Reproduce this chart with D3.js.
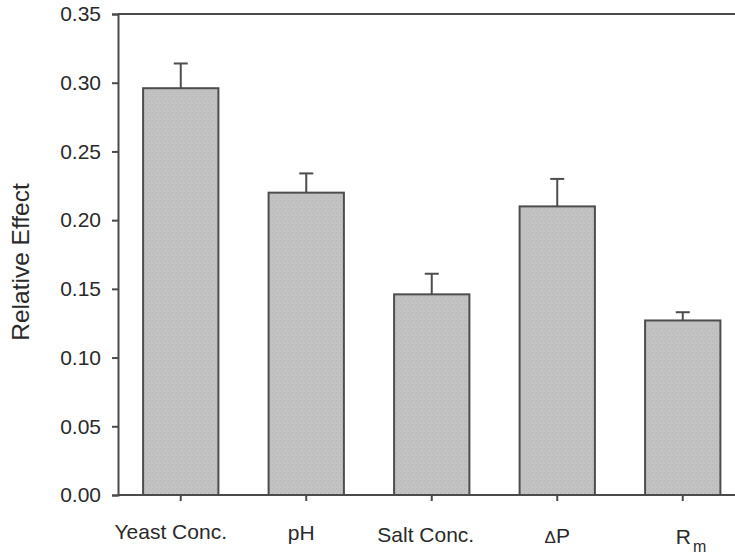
<!DOCTYPE html>
<html>
<head>
<meta charset="utf-8">
<script src="https://cdn.jsdelivr.net/npm/d3@7"></script>
<style>
  html, body { margin: 0; padding: 0; background: #fff; }
  svg { display: block; }
  text { font-family: Arial, "Liberation Sans", sans-serif; fill: #2a2a2a; }
</style>
</head>
<body>
<svg id="chart" width="735" height="555"></svg>
<script>
const categories = ["Yeast Conc.", "pH", "Salt Conc.", "ΔP", "Rm"];
const values = [0.296, 0.220, 0.146, 0.210, 0.127];
const errors = [0.018, 0.014, 0.015, 0.020, 0.006];
const yTicks = [0.00, 0.05, 0.10, 0.15, 0.20, 0.25, 0.30, 0.35];
const yLabel = "Relative Effect";

const svg = d3.select("#chart");
const mLeft = 118, mTop = 14, mBottom = 495, mRight = 745.5;

const x = d3.scaleBand().domain(categories).range([mLeft, mRight]).paddingInner(0.4).paddingOuter(0.2);
const y = d3.scaleLinear().domain([0, 0.35]).range([mBottom, mTop]);

const axisColor = "#4a4a4a";

// subtle stipple for bar fill
const defs = svg.append("defs");
const pat = defs.append("pattern").attr("id", "stip").attr("patternUnits", "userSpaceOnUse")
  .attr("width", 4).attr("height", 4);
pat.append("rect").attr("width", 4).attr("height", 4).attr("fill", "#c2c2c2");
pat.append("rect").attr("x", 0).attr("y", 0).attr("width", 1).attr("height", 1).attr("fill", "#b4b4b4");
pat.append("rect").attr("x", 2).attr("y", 2).attr("width", 1).attr("height", 1).attr("fill", "#b8b8b8");

// bars
svg.append("g").selectAll("rect").data(categories).join("rect")
  .attr("x", d => x(d))
  .attr("y", (d, i) => y(values[i]))
  .attr("width", x.bandwidth())
  .attr("height", (d, i) => y(0) - y(values[i]))
  .attr("fill", "url(#stip)")
  .attr("stroke", "#4d4d4d")
  .attr("stroke-width", 2);

// error bars (upper only)
const eg = svg.append("g").attr("stroke", "#4d4d4d").attr("stroke-width", 2);
categories.forEach((c, i) => {
  const cx = x(c) + x.bandwidth() / 2;
  eg.append("line").attr("x1", cx).attr("x2", cx)
    .attr("y1", y(values[i])).attr("y2", y(values[i] + errors[i]));
  eg.append("line").attr("x1", cx - 7).attr("x2", cx + 7)
    .attr("y1", y(values[i] + errors[i])).attr("y2", y(values[i] + errors[i]));
});

// y axis
const yAxis = d3.axisLeft(y).tickValues(yTicks).tickFormat(d3.format(".2f")).tickSize(6).tickPadding(11);
const gy = svg.append("g").attr("transform", `translate(${mLeft},0)`).call(yAxis);
gy.select(".domain").attr("stroke", axisColor).attr("stroke-width", 2);
gy.selectAll(".tick line").attr("stroke", axisColor).attr("stroke-width", 2);
gy.selectAll(".tick text").attr("font-size", 21).attr("font-family", "Arial, 'Liberation Sans', sans-serif").style("fill", "#2a2a2a");

// x axis
const xAxis = d3.axisBottom(x).tickSize(6).tickFormat("");
const gx = svg.append("g").attr("transform", `translate(0,${mBottom})`).call(xAxis);
gx.select(".domain").attr("stroke", axisColor).attr("stroke-width", 2).attr("d", `M${mLeft},0H${mRight}`);
gx.selectAll(".tick line").attr("stroke", axisColor).attr("stroke-width", 2);

// x labels
const labelDx = [-10, -5, -6, 0, 0];
const lab = svg.append("g").attr("font-size", 21).attr("text-anchor", "middle");
categories.forEach((c, i) => {
  const cx = x(c) + x.bandwidth() / 2;
  const t = lab.append("text").attr("x", cx + labelDx[i]).attr("y", 539 + 1.3 * i);
  if (c === "Rm") {
    t.attr("text-anchor", "start").attr("x", cx - 7);
    t.append("tspan").text("R");
    t.append("tspan").attr("dx", 2).attr("dy", 8).attr("font-size", 16).text("m");
  } else if (c === "ΔP") {
    t.append("tspan").attr("font-size", 17).text("Δ");
    t.append("tspan").text("P");
  } else {
    t.text(c);
  }
});

// top frame
svg.append("line").attr("x1", mLeft).attr("x2", mRight).attr("y1", mTop).attr("y2", mTop)
  .attr("stroke", axisColor).attr("stroke-width", 2);

// y label
svg.append("text")
  .attr("transform", `translate(29,${262}) rotate(-90)`)
  .attr("text-anchor", "middle").attr("font-size", 24.5).text(yLabel);
</script>
</body>
</html>
